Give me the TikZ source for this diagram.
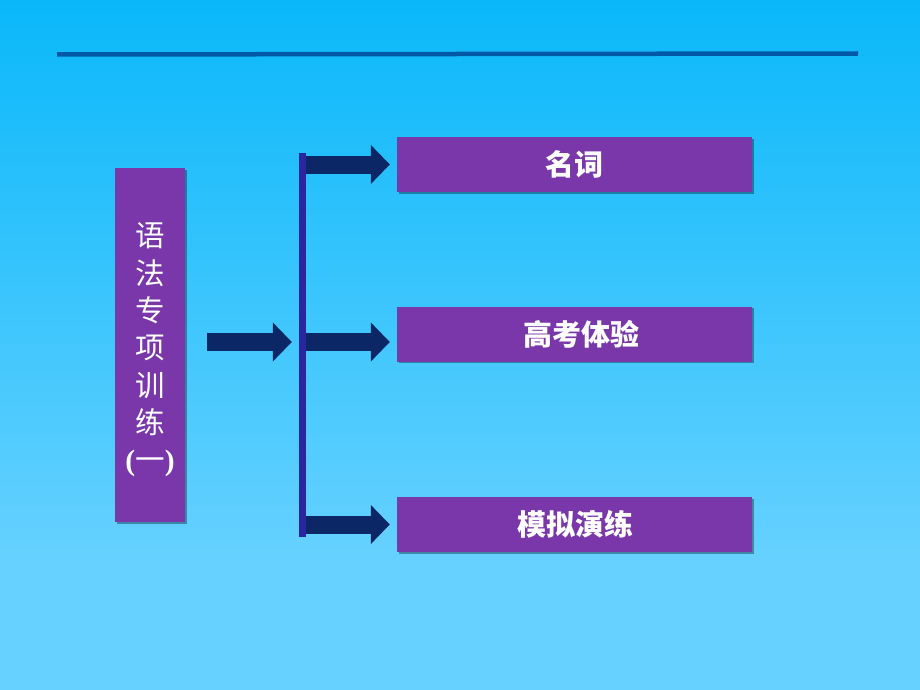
\documentclass[tikz,border=0pt]{standalone}
\usepackage{fontspec}
\setmainfont{Liberation Serif}
\newfontfamily\cjk{Noto Sans CJK SC}
\usetikzlibrary{arrows.meta,shadows}
\definecolor{bgtop}{HTML}{0AB8FA}
\definecolor{bgbot}{HTML}{66D1FF}
\definecolor{rulec}{HTML}{0058A6}
\definecolor{boxc}{HTML}{7A37A9}
\definecolor{barc}{HTML}{2A26A0}
\definecolor{arrc}{HTML}{0B2766}
\tikzset{
  pbox/.style={fill=boxc, draw=none, text=white, inner sep=0pt,
    drop shadow={shadow xshift=1.5pt, shadow yshift=-1.5pt, opacity=0.35, fill=black}},
  titlebox/.style={pbox, minimum width=355, minimum height=55,
    font=\cjk\bfseries\fontsize{29}{32}\selectfont},
  blockarrow/.style={draw=arrc, line width=18, -{Triangle[width=38,length=19]}},
}
\begin{document}
\begin{tikzpicture}[x=1pt,y=-1pt]
\useasboundingbox (0,0) rectangle (920,690);
\shade[top color=bgtop, bottom color=bgbot] (0,0) rectangle (920,560);
\fill[bgbot] (0,559.5) rectangle (920,690);
\draw[rulec, line width=4.5] (57,54.5) -- (858,53.5);

\node[pbox, minimum width=70, minimum height=354] (left) at (150,345) {};
\node[text=white, align=center, inner sep=0pt,
  font=\cjk\fontsize{29.5}{37.3}\selectfont] (lefttext) at (150,350)
  {语\\法\\专\\项\\训\\练\\{\rmfamily\bfseries(}一{\rmfamily\bfseries)}};

\node[fill=barc, minimum width=7, minimum height=384, inner sep=0pt] (bar) at (302.5,345) {};

\node[titlebox] (n1) at (574.5,164.5) {名词};
\node[titlebox] (n2) at (574.5,334) {\hspace*{14pt}高考体验};
\node[titlebox] (n3) at (574.5,524.5) {\hspace*{2pt}模拟演练};

\coordinate (start) at (207,342);
\draw[blockarrow, shorten >=7] (start) -- (bar.west |- start);
\draw[blockarrow] (bar.east |- n1.west) -- ([xshift=-7]n1.west);
\draw[blockarrow] (bar.east |- start) -- ([xshift=-7]n2.west |- start);
\draw[blockarrow] (bar.east |- n3.west) -- ([xshift=-7]n3.west);
\end{tikzpicture}
\end{document}
